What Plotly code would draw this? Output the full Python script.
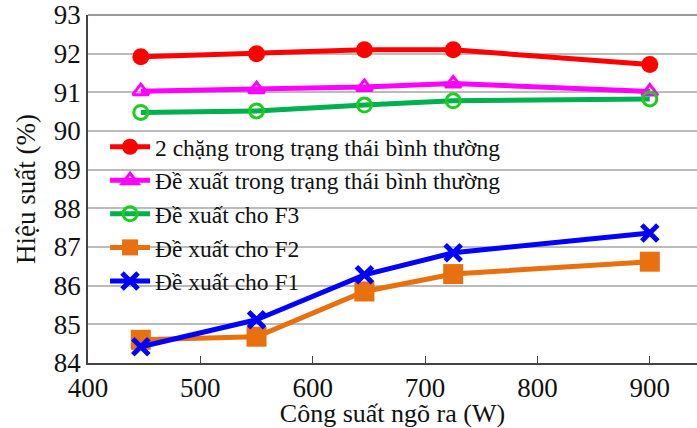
import plotly.graph_objects as go

# Output power (W) and efficiency (%) for each configuration
power = [447, 550, 646, 725, 900]
eff_two_stage = [91.92, 92.0, 92.1, 92.1, 91.72]
eff_proposed_normal = [91.03, 91.08, 91.14, 91.23, 91.02]
eff_f3 = [90.48, 90.52, 90.67, 90.78, 90.83]
eff_f2 = [84.6, 84.68, 85.85, 86.3, 86.62]
eff_f1 = [84.42, 85.12, 86.28, 86.85, 87.36]

names = [
    "2 chặng trong trạng thái bình thường",
    "Đề xuất trong trạng thái bình thường",
    "Đề xuất cho F3",
    "Đề xuất cho F2",
    "Đề xuất cho F1",
]

SERIF = "Liberation Serif"
INK = "#111111"

fig = go.Figure()

fig.add_trace(go.Scatter(
    x=power, y=eff_two_stage, name=names[0], mode="lines+markers",
    line=dict(color="#FF0000", width=5),
    marker=dict(symbol="circle", size=17, color="#FF0000"),
))
fig.add_trace(go.Scatter(
    x=power, y=eff_proposed_normal, name=names[1], mode="lines+markers",
    line=dict(color="#FF00FF", width=5),
    marker=dict(symbol="triangle-up-open", size=14, color="#FF00FF",
                line=dict(width=3, color="#FF00FF")),
))
fig.add_trace(go.Scatter(
    x=power, y=eff_f3, name=names[2], mode="lines+markers",
    line=dict(color="#00B050", width=5),
    marker=dict(symbol="circle-open", size=14, color="#1ECC1E",
                line=dict(width=3, color="#1ECC1E")),
))
fig.add_trace(go.Scatter(
    x=power, y=eff_f2, name=names[3], mode="lines+markers",
    line=dict(color="#E8700F", width=5),
    marker=dict(symbol="square", size=20, color="#E8700F"),
))
fig.add_trace(go.Scatter(
    x=power, y=eff_f1, name=names[4], mode="lines+markers",
    line=dict(color="#0000FF", width=5),
    marker=dict(symbol="x-thin", size=16, color="#0000FF",
                line=dict(width=5, color="#0000FF")),
))

fig.update_layout(
    width=697, height=428,
    margin=dict(l=88, r=0, t=15, b=65),
    paper_bgcolor="white", plot_bgcolor="white",
    font=dict(family=SERIF, size=26, color=INK),
    showlegend=True,
    legend=dict(
        x=0.028, y=0.684, xanchor="left", yanchor="top",
        bgcolor="rgba(0,0,0,0)", borderwidth=0,
        font=dict(family=SERIF, size=23.5, color=INK),
        tracegroupgap=0, itemwidth=40,
    ),
)
fig.update_xaxes(
    range=[400, 942], tickvals=[400, 500, 600, 700, 800, 900],
    showgrid=False, zeroline=False,
    showline=True, linecolor="#444444", linewidth=1.5,
    ticks="inside", ticklen=7, tickcolor="#444444",
    tickfont=dict(family=SERIF, size=27, color=INK),
    title_text="Công suất ngõ ra (W)",
    title_font=dict(family=SERIF, size=26, color=INK),
    title_standoff=3,
)
fig.update_yaxes(
    range=[84, 93], dtick=1,
    showgrid=True, gridcolor="#BBBBBB", gridwidth=1.5,
    zeroline=False,
    showline=True, linecolor="#444444", linewidth=1.5,
    tickfont=dict(family=SERIF, size=27, color=INK),
    title_text="Hiệu suất (%)",
    title_font=dict(family=SERIF, size=27, color=INK),
    title_standoff=10,
)

# Top border of the plot area
fig.add_shape(type="line", xref="paper", yref="paper", x0=0, x1=1, y0=1, y1=1,
              line=dict(color="#777777", width=1.5))

fig.write_html("out.html")
